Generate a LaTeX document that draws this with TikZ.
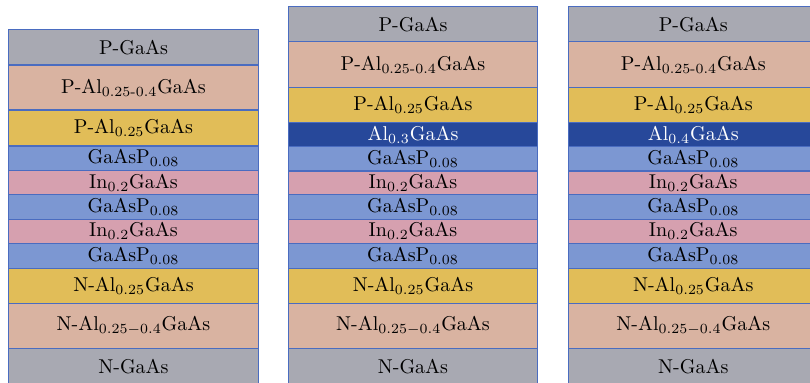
\documentclass[tikz,border=0pt]{standalone}
\usepackage{amsmath}
\begin{document}
\begin{tikzpicture}[x=0.5pt,y=-0.5pt]
\definecolor{cgray}{RGB}{168,169,178}
\definecolor{csalmon}{RGB}{217,179,161}
\definecolor{cyellow}{RGB}{225,189,88}
\definecolor{clblue}{RGB}{124,151,210}
\definecolor{cpink}{RGB}{214,160,175}
\definecolor{cdblue}{RGB}{39,72,154}
\definecolor{cborder}{RGB}{74,108,192}
\tikzset{
  layer/.style={draw=cborder, line width=0.6pt, inner sep=0pt, outer sep=0pt, font=\fontsize{10}{12}\selectfont},
  gaas/.style={layer, fill=cgray},
  grad/.style={layer, fill=csalmon},
  clad/.style={layer, fill=cyellow},
  barr/.style={layer, fill=clblue},
  well/.style={layer, fill=cpink},
  block/.style={layer, fill=cdblue, text=white}
}
\useasboundingbox (0,0) rectangle (810,383);
\clip (0,0) rectangle (810,383);
% Stack 1
\foreach \y/\h/\st/\t [count=\i] in {
  29.3/35.7/gaas/{P-GaAs},
  65/45/grad/{P-Al$_{\text{0.25-0.4}}$GaAs},
  110/36/clad/{P-Al$_{0.25}$GaAs},
  146/24.3/barr/{GaAsP$_{0.08}$},
  170.3/24.4/well/{In$_{0.2}$GaAs},
  194.7/24.6/barr/{GaAsP$_{0.08}$},
  219.3/24/well/{In$_{0.2}$GaAs},
  243.3/25/barr/{GaAsP$_{0.08}$},
  268.3/35/clad/{N-Al$_{0.25}$GaAs},
  303.3/45.4/grad/{N-Al$_{0.25-0.4}$GaAs},
  348.7/35.3/gaas/{N-GaAs}}
{
  \draw[\st] (8.3,\y) rectangle ++(250.4,\h)
    node[midway] (a\i) {\t};
}
% Stack 2
\foreach \y/\h/\st/\t [count=\i] in {
  6.7/35/gaas/{P-GaAs},
  41.7/45.6/grad/{P-Al$_{\text{0.25-0.4}}$GaAs},
  87.3/35/clad/{P-Al$_{0.25}$GaAs},
  122.3/24.4/block/{Al$_{0.3}$GaAs},
  146.7/24.3/barr/{GaAsP$_{0.08}$},
  171/23.7/well/{In$_{0.2}$GaAs},
  194.7/24.6/barr/{GaAsP$_{0.08}$},
  219.3/24/well/{In$_{0.2}$GaAs},
  243.3/25/barr/{GaAsP$_{0.08}$},
  268.3/35/clad/{N-Al$_{0.25}$GaAs},
  303.3/45.4/grad/{N-Al$_{0.25-0.4}$GaAs},
  348.7/35.3/gaas/{N-GaAs}}
{
  \draw[\st] (288.3,\y) rectangle ++(249.4,\h)
    node[midway] (b\i) {\t};
}
% Stack 3
\foreach \y/\h/\st/\t [count=\i] in {
  6.7/35/gaas/{P-GaAs},
  41.7/45.6/grad/{P-Al$_{\text{0.25-0.4}}$GaAs},
  87.3/35/clad/{P-Al$_{0.25}$GaAs},
  122.3/24.4/block/{Al$_{0.4}$GaAs},
  146.7/24.3/barr/{GaAsP$_{0.08}$},
  171/23.7/well/{In$_{0.2}$GaAs},
  194.7/24.6/barr/{GaAsP$_{0.08}$},
  219.3/24/well/{In$_{0.2}$GaAs},
  243.3/25/barr/{GaAsP$_{0.08}$},
  268.3/35/clad/{N-Al$_{0.25}$GaAs},
  303.3/45.4/grad/{N-Al$_{0.25-0.4}$GaAs},
  348.7/35.3/gaas/{N-GaAs}}
{
  \draw[\st] (568.3,\y) rectangle ++(250,\h)
    node[midway] (c\i) {\t};
}
\end{tikzpicture}
\end{document}
